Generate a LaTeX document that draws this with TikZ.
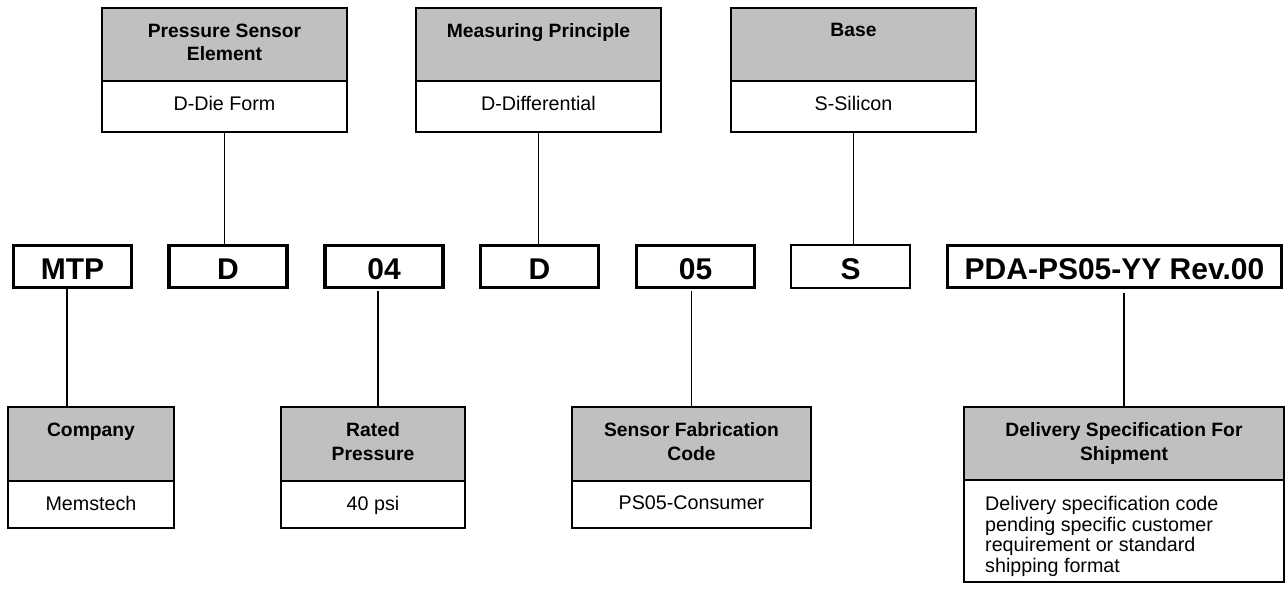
\documentclass[tikz,border=0pt]{standalone}
\usepackage{fontspec}
\setmainfont{Liberation Sans}
\definecolor{hdrgray}{HTML}{C0C0C0}
\begin{document}
\begin{tikzpicture}[x=1pt,y=-1pt,
  cell/.style={draw=black, line width=1.9pt, inner sep=0pt, outer sep=0pt},
  hcell/.style={cell, fill=hdrgray},
  htext/.style={font=\fontsize{19.3}{23.5}\selectfont\bfseries, align=center, anchor=north, inner sep=0pt},
  btext/.style={font=\fontsize{19.7}{20.7}\selectfont, align=center, anchor=north, inner sep=0pt},
  code/.style={draw=black, line width=3.4pt, minimum height=42pt, minimum width=118pt, inner sep=0pt, outer sep=0pt, text height=26pt, text depth=0pt, font=\fontsize{30}{36}\selectfont\bfseries},
  conn/.style={line width=1.8pt}]
\useasboundingbox[fill=white] (0,0) rectangle (1285,592);

% ---- top boxes ----
\node[hcell, minimum width=245pt, minimum height=73pt] (h1) at (224.5,44.5) {};
\node[cell, minimum width=245pt, minimum height=51pt] (b1) at (224.5,106.5) {};
\node[htext] (h1t) at ([yshift=-15.5pt]h1.north) {Pressure Sensor\\Element};
\node[btext] (b1t) at ([yshift=-15pt]b1.north) {D-Die Form};

\node[hcell, minimum width=245pt, minimum height=73pt] (h2) at (538.5,44.5) {};
\node[cell, minimum width=245pt, minimum height=51pt] (b2) at (538.5,106.5) {};
\node[htext] (h2t) at ([yshift=-15.5pt]h2.north) {Measuring Principle};
\node[btext] (b2t) at ([yshift=-15pt]b2.north) {D-Differential};

\node[hcell, minimum width=245pt, minimum height=73pt] (h3) at (853.5,44.5) {};
\node[cell, minimum width=245pt, minimum height=51pt] (b3) at (853.5,106.5) {};
\node[htext] (h3t) at ([yshift=-15.5pt]h3.north) {Base};
\node[btext] (b3t) at ([yshift=-15pt]b3.north) {S-Silicon};

% ---- code row ----
\node[code] (c1) at (72.5,266.5) {MTP};
\node[code] (c2) at (228,266.5) {D};
\node[code] (c3) at (384,266.5) {04};
\node[code] (c4) at (539.5,266.5) {D};
\node[code] (c5) at (695.5,266.5) {05};
\node[code, line width=1.9pt, minimum width=119.5pt, minimum height=43.5pt] (c6) at (850.5,266.5) {S};
\node[code, minimum width=334pt] (c7) at (1114.5,266.5) {PDA-PS05-YY Rev.00};

% ---- bottom boxes ----
\node[hcell, minimum width=166pt, minimum height=74pt] (ch) at (91,444) {};
\node[cell, minimum width=166pt, minimum height=47pt] (cb) at (91,504.5) {};
\node[htext] (cht) at ([yshift=-16pt]ch.north) {Company};
\node[btext] (cbt) at ([yshift=-15pt]cb.north) {Memstech};

\node[hcell, minimum width=184pt, minimum height=74pt] (rh) at (373,444) {};
\node[cell, minimum width=184pt, minimum height=47pt] (rb) at (373,504.5) {};
\node[htext] (rht) at ([yshift=-15.5pt]rh.north) {Rated\\Pressure};
\node[btext] (rbt) at ([yshift=-15pt]rb.north) {40 psi};

\node[hcell, minimum width=239pt, minimum height=74pt] (sh) at (691.5,444) {};
\node[cell, minimum width=239pt, minimum height=47pt] (sb) at (691.5,504.5) {};
\node[htext] (sht) at ([yshift=-15.5pt]sh.north) {Sensor Fabrication\\Code};
\node[btext] (sbt) at ([yshift=-15pt]sb.north) {PS05-Consumer};

\node[hcell, minimum width=320pt, minimum height=73pt] (dh) at (1124,443.5) {};
\node[cell, minimum width=320pt, minimum height=102pt] (db) at (1124,531) {};
\node[htext] (dht) at ([yshift=-15.5pt]dh.north) {Delivery Specification For\\Shipment};
\node[btext, align=left, anchor=north west] (dbt) at ([xshift=21pt,yshift=-16pt]db.north west) {Delivery specification code\\pending specific customer\\requirement or standard\\shipping format};

% ---- connectors ----
\draw[conn] (b1.south) -- (b1.south |- c2.north);
\draw[conn] (b2.south) -- (b2.south |- c4.north);
\draw[conn] (b3.south) -- (b3.south |- c6.north);
\draw[conn] ([xshift=-5.5pt]c1.south) -- ([xshift=-5.5pt]c1.south |- ch.north);
\draw[conn, shorten <=3pt] ([xshift=-6pt]c3.south) -- ([xshift=-6pt]c3.south |- rh.north);
\draw[conn, shorten <=3pt] (sh.north |- c5.south) -- (sh.north);
\draw[conn, shorten <=5pt] (dh.north |- c7.south) -- (dh.north);
\end{tikzpicture}
\end{document}
